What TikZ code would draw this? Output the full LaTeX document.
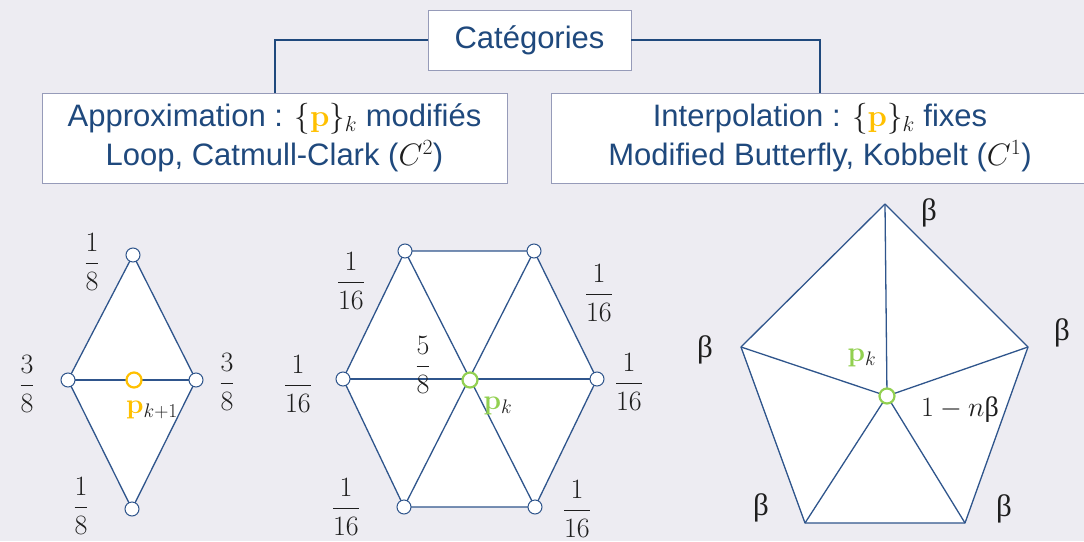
\RequirePackage{fix-cm}
\documentclass[tikz,border=0pt]{standalone}
\usepackage{amsmath}
\usepackage[no-math]{fontspec}
\setmainfont{Liberation Sans}
\newfontfamily\grk{Liberation Serif}
\definecolor{bg}{RGB}{237,236,242}
\definecolor{navy}{RGB}{31,73,125}
\definecolor{edgec}{RGB}{47,85,140}
\definecolor{boxline}{RGB}{150,155,185}
\definecolor{pyel}{RGB}{255,192,0}
\definecolor{pgrn}{RGB}{146,208,80}
\definecolor{txt}{RGB}{30,30,30}
\tikzset{
  box/.style={draw=boxline, line width=0.8pt, fill=white, text=navy, align=center,
    font=\fontsize{31}{39}\selectfont, inner sep=0pt},
  conn/.style={draw=navy, line width=2pt},
  mesh/.style={draw=edgec, line width=1.3pt, line join=round},
  vtx/.style={circle, draw=edgec, fill=white, line width=1pt, minimum size=14pt, inner sep=0pt},
  ctr/.style={circle, fill=white, line width=2.2pt, minimum size=15pt, inner sep=0pt},
  lbl/.style={text=txt, font=\fontsize{28}{34}\selectfont, inner sep=0pt},
  grl/.style={text=txt, font=\fontsize{31}{34}\grk, inner sep=0pt},
}
\begin{document}
\begin{tikzpicture}[x=1pt,y=-1pt]
\useasboundingbox[fill=bg] (0,0) rectangle (1084,541);
% header boxes
\node[box, minimum width=203pt, minimum height=60pt] (cat) at (529.5,40) {Catégories};
\node[box, minimum width=465pt, minimum height=90pt] (app) at (274.5,138)
  {Approximation : ${\color{txt}\{\textcolor{pyel}{\mathbf{p}}\}_k}$ modifiés\\
   Loop, Catmull-Clark (${\color{txt}C^2}$)};
\node[box, minimum width=538pt, minimum height=90pt] (int) at (820,138)
  {Interpolation : ${\color{txt}\{\textcolor{pyel}{\mathbf{p}}\}_k}$ fixes\\
   Modified Butterfly, Kobbelt (${\color{txt}C^1}$)};
\draw[conn] (cat.west) -| (app.north);
\draw[conn] (cat.east) -| (int.north);
% diamond
\coordinate (dT) at (133,255);
\coordinate (dL) at (68,380);
\coordinate (dR) at (196,380);
\coordinate (dB) at (132,509);
\coordinate (dC) at (134,380);
\fill[white] (dT) -- (dL) -- (dB) -- (dR) -- cycle;
\draw[mesh] (dT) -- (dL) -- (dB) -- (dR) -- cycle;
\draw[mesh] (dL) -- (dR);
\node[vtx] (cT) at (dT) {};
\node[vtx] (cL) at (dL) {};
\node[vtx] (cR) at (dR) {};
\node[vtx] (cB) at (dB) {};
\node[ctr, draw=pyel] (cC) at (dC) {};
\node[lbl] (f1) at (92,262) {$\dfrac{1}{8}$};
\node[lbl] (f2) at (27,384) {$\dfrac{3}{8}$};
\node[lbl] (f3) at (227,382) {$\dfrac{3}{8}$};
\node[lbl] (f4) at (81,506) {$\dfrac{1}{8}$};
\node[lbl] (pk1) at (152,410) {$\textcolor{pyel}{\mathbf{p}}_{k+1}$};
% hexagon
\coordinate (hTL) at (405,251);
\coordinate (hTR) at (534,251);
\coordinate (hL) at (343,379);
\coordinate (hR) at (597,379);
\coordinate (hBL) at (404,507);
\coordinate (hBR) at (535,507);
\coordinate (hC) at (470,380);
\fill[white] (hTL) -- (hTR) -- (hR) -- (hBR) -- (hBL) -- (hL) -- cycle;
\draw[mesh] (hTL) -- (hTR) -- (hR) -- (hBR) -- (hBL) -- (hL) -- cycle;
\draw[mesh] (hTL) -- (hBR);
\draw[mesh] (hTR) -- (hBL);
\draw[mesh] (hL) -- (hR);
\node[vtx] (gTL) at (hTL) {};
\node[vtx] (gTR) at (hTR) {};
\node[vtx] (gL) at (hL) {};
\node[vtx] (gR) at (hR) {};
\node[vtx] (gBL) at (hBL) {};
\node[vtx] (gBR) at (hBR) {};
\node[ctr, draw=pgrn] (gC) at (hC) {};
\node[lbl] (h1) at (351,281) {$\dfrac{1}{16}$};
\node[lbl] (h2) at (599,293) {$\dfrac{1}{16}$};
\node[lbl] (h3) at (298,384) {$\dfrac{1}{16}$};
\node[lbl] (h4) at (629,382) {$\dfrac{1}{16}$};
\node[lbl] (h5) at (346,507) {$\dfrac{1}{16}$};
\node[lbl] (h6) at (577,509) {$\dfrac{1}{16}$};
\node[lbl] (h7) at (423,365) {$\dfrac{5}{8}$};
\node[lbl] (pk) at (498,406) {$\textcolor{pgrn}{\mathbf{p}}_{k}$};
% pentagon
\coordinate (qT) at (885,204);
\coordinate (qL) at (741,347);
\coordinate (qR) at (1028,347);
\coordinate (qBL) at (805,523);
\coordinate (qBR) at (965,523);
\coordinate (qC) at (887,396);
\fill[white] (qT) -- (qR) -- (qBR) -- (qBL) -- (qL) -- cycle;
\draw[mesh] (qT) -- (qR) -- (qBR) -- (qBL) -- (qL) -- cycle;
\foreach \v in {qT,qR,qBR,qBL,qL} \draw[mesh] (qC) -- (\v);
\node[ctr, draw=pgrn] (pC) at (qC) {};
\node[grl] (b1) at (929,213) {β};
\node[grl] (b2) at (1062,333) {β};
\node[grl] (b3) at (705,350) {β};
\node[grl] (b4) at (761,508) {β};
\node[grl] (b5) at (1004,509) {β};
\node[lbl] (nb) at (960,410) {$1-n\text{\grk β}$};
\node[lbl] (pk2) at (862,358) {$\textcolor{pgrn}{\mathbf{p}}_{k}$};
\end{tikzpicture}
\end{document}
